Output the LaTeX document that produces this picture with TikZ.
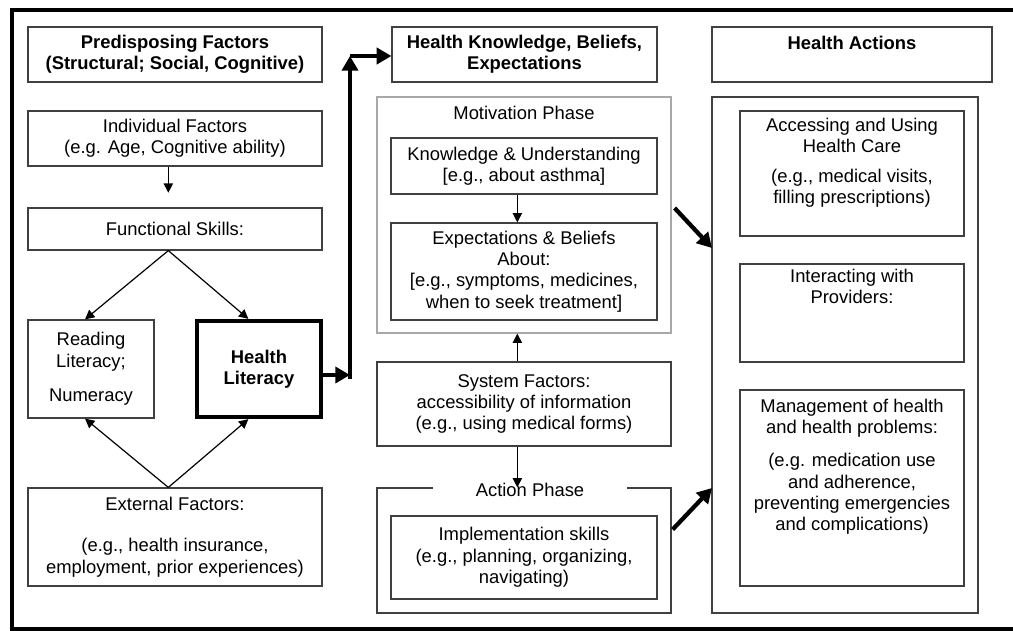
\documentclass[tikz,border=0pt]{standalone}
\usepackage{fontspec}
\setmainfont{Liberation Sans}
\usepackage{tikz}
\usetikzlibrary{arrows.meta, positioning}
\definecolor{boxgray}{HTML}{404040}
\definecolor{phasegray}{HTML}{A8A8A8}

\begin{document}
\fontsize{13.8}{16}\selectfont
\begin{tikzpicture}[x=0.75pt, y=-0.75pt,
	box/.style={draw=boxgray, line width=0.9pt, align=center, inner sep=0pt},
	phase/.style={draw=phasegray, line width=0.9pt, inner sep=0pt},
	txt/.style={align=center, inner sep=0pt},
	arr/.style={-{Triangle[length=7pt, width=7pt]}, line width=0.9pt},
	bigarr/.style={-{Triangle[length=11pt, width=12pt]}, line width=3.2pt}]

	\useasboundingbox (0,0) rectangle (1013,631);
	\draw[line width=3.2pt] (1013,10) -| (12,629) -- (1013,629);

	% left column
	\node[box, minimum width=220.5pt, minimum height=41.25pt, font=\bfseries] (pre) at (175,54.5) {Predisposing Factors\\(Structural; Social, Cognitive)};
	\node[box, minimum width=220.5pt, minimum height=41.25pt] (ind) at (175,138.5) {Individual Factors\\(e.g. Age, Cognitive ability)};
	\node[box, minimum width=220.5pt, minimum height=31.5pt] (fun) at (175,229) {Functional Skills:};
	\node[box, minimum width=94.5pt, minimum height=73.5pt] (read) at (91,369) {Reading\\Literacy;\\[10pt]Numeracy};
	\node[box, draw=black, line width=3.2pt, minimum width=93pt, minimum height=72pt, font=\bfseries] (hl) at (259,369) {Health\\Literacy};
	\node[box, minimum width=220.5pt, minimum height=73.5pt] (ext) at (175,537) {External Factors:\\[15pt](e.g., health insurance,\\employment, prior experiences)};

	% middle column
	\node[box, minimum width=198.75pt, minimum height=41.25pt, font=\bfseries] (hk) at (524.5,54.5) {Health Knowledge, Beliefs,\\Expectations};
	\node[phase, minimum width=220.5pt, minimum height=177pt] (mot) at (524,215) {};
	\node[txt, below=7.5pt of mot.north] (motT) {Motivation Phase};
	\node[box, minimum width=199.5pt, minimum height=42pt] (ku) at (524,166) {Knowledge \& Understanding\\{}[e.g., about asthma]};
	\node[box, minimum width=199.5pt, minimum height=72.75pt] (eb) at (524,271.5) {Expectations \& Beliefs\\About:\\{}[e.g., symptoms, medicines,\\when to seek treatment]};
	\node[box, minimum width=220.5pt, minimum height=63pt] (sys) at (524,404) {System Factors:\\accessibility of information\\(e.g., using medical forms)};
	\node[box, minimum width=220.5pt, minimum height=93.75pt] (act) at (524,550.5) {};
	\node[fill=white, inner sep=2pt, minimum width=146pt] (actT) at (530,490) {Action Phase};
	\node[box, minimum width=199.5pt, minimum height=62.25pt] (imp) at (524,557.5) {Implementation skills\\(e.g., planning, organizing,\\navigating)};

	% right column
	\node[box, minimum width=210pt, minimum height=41.25pt] (ha) at (852,54.5) {};
	\node[txt, font=\bfseries, below=7.5pt of ha.north] (haT) {Health Actions};
	\node[box, minimum width=199.5pt, minimum height=387pt] (acts) at (845,355) {};
	\node[box, minimum width=168pt, minimum height=93.75pt] (acc) at (852,173.5) {};
	\node[txt, below=5.5pt of acc.north] (accT) {Accessing and Using\\Health Care\\[6pt](e.g., medical visits,\\filling prescriptions)};
	\node[box, minimum width=168pt, minimum height=73.5pt] (int) at (852,313) {};
	\node[txt, below=4pt of int.north] (intT) {Interacting with\\Providers:};
	\node[box, minimum width=168pt, minimum height=147pt] (man) at (852,488) {};
	\node[txt, below=6.75pt of man.north] (manT) {Management of health\\and health problems:\\[9pt](e.g. medication use\\and adherence,\\preventing emergencies\\and complications)};

	\coordinate (c1) at (350,375);
	\coordinate (c2) at (350,56);
	\coordinate (a1) at (712,248);
	\coordinate (a2) at (712,488);

	\draw[arr, shorten >=11pt] ([xshift=-5pt]ind.south) -- ([xshift=-5pt]fun.north);
	\draw[arr] ([xshift=-5pt]fun.south) -- ([xshift=-4.5pt]read.north);
	\draw[arr] ([xshift=-5pt]fun.south) -- ([xshift=-8pt]hl.north);
	\draw[arr] ([xshift=-5pt]ext.north) -- ([xshift=-4.5pt]read.south);
	\draw[arr] ([xshift=-5pt]ext.north) -- ([xshift=-8pt]hl.south);
	\draw[arr] ([xshift=-5pt]ku.south) -- ([xshift=-5pt]eb.north);
	\draw[arr] ([xshift=-5pt]sys.north) -- ([xshift=-5pt]mot.south);
	\draw[arr] ([xshift=-5pt]sys.south) -- ([xshift=-5pt]act.north);

	\draw[bigarr] (hl.east |- c1) -- (c1);
	\draw[bigarr, line cap=rect] ([yshift=-1.5pt]c1) -- (c2);
	\draw[bigarr] (c2) -- (c2 -| hk.west);
	\draw[bigarr] ([shift={(3,-7)}]mot.east) -- (a1);
	\draw[bigarr] ([shift={(1,-21)}]act.east) -- (a2);
\end{tikzpicture}
\end{document}
